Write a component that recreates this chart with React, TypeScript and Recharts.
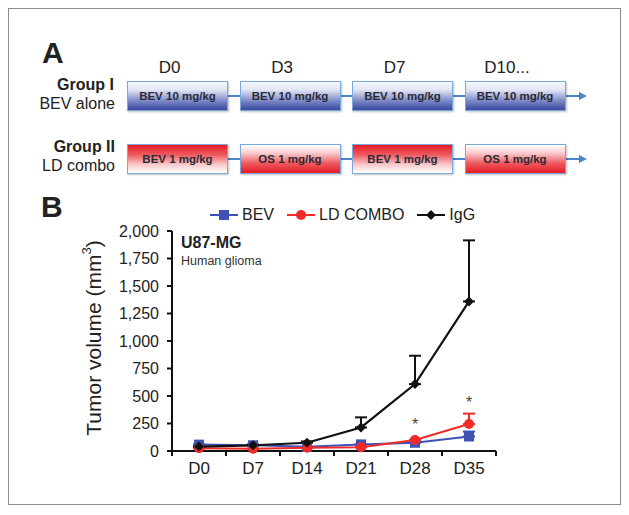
import React from 'react';
import { ComposedChart, Line, XAxis, YAxis, ErrorBar, Label } from 'recharts';

// panel B values
const days = ['D0', 'D7', 'D14', 'D21', 'D28', 'D35'];
const bev = [58, 52, 38, 60, 75, 132];
const bevErr = [0, 0, 0, 0, 10, 45];
const ldCombo = [25, 20, 30, 35, 100, 245];
const ldComboErr = [0, 0, 0, 0, 0, 95];
const igg = [40, 52, 75, 214, 608, 1360];
const iggErr = [0, 8, 12, 92, 258, 555];
const significance = [null, null, null, null, 275, 473];
const yTicks = [0, 250, 500, 750, 1000, 1250, 1500, 1750, 2000];

// panel A schedule
const scheduleDays = ['D0', 'D3', 'D7', 'D10...'];
const group1Doses = ['BEV 10 mg/kg', 'BEV 10 mg/kg', 'BEV 10 mg/kg', 'BEV 10 mg/kg'];
const group2Doses = ['BEV 1 mg/kg', 'OS 1 mg/kg', 'BEV 1 mg/kg', 'OS 1 mg/kg'];

const BLUE = '#3d52b4';
const RED = '#f22a2a';
const BLACK = '#111111';
const LINK = '#4a86c8';

const series = [
  { key: 'bev', name: 'BEV', color: BLUE, shape: 'square' },
  { key: 'ldCombo', name: 'LD COMBO', color: RED, shape: 'circle' },
  { key: 'igg', name: 'IgG', color: BLACK, shape: 'diamond' },
];

const data = days.map((day, i) => ({
  day,
  bev: bev[i],
  bevErr: [0, bevErr[i]],
  ldCombo: ldCombo[i],
  ldComboErr: [0, ldComboErr[i]],
  igg: igg[i],
  iggErr: [0, iggErr[i]],
  sig: significance[i],
}));

const BAND = 54;

const marker = (shape: string, color: string, cx: number, cy: number, key?: string) => {
  if (shape === 'square') {
    return <rect key={key} x={cx - 5} y={cy - 5} width={10} height={10} fill={color} />;
  }
  if (shape === 'circle') {
    return <circle key={key} cx={cx} cy={cy} r={5} fill={color} />;
  }
  return (
    <polygon
      key={key}
      points={`${cx},${cy - 5} ${cx + 5},${cy} ${cx},${cy + 5} ${cx - 5},${cy}`}
      fill={color}
    />
  );
};

const makeDot = (shape: string, color: string) => (props: any) => {
  const { cx, cy, index } = props;
  if (cx == null || cy == null) return <g key={`e-${shape}-${index}`} />;
  return marker(shape, color, cx, cy, `${shape}-${index}`);
};

const StarDot = (props: any) => {
  const { cx, cy, index, value } = props;
  if (value == null || cy == null) return <g key={`s-${index}`} />;
  return (
    <text key={`s-${index}`} x={cx} y={cy + 9} textAnchor="middle" fontSize={16} fill="#444">
      *
    </text>
  );
};

// tick marks sit on the category boundaries, labels in the middle
const DayTick = (props: any) => {
  const { x, y, payload, index } = props;
  const half = BAND / 2;
  return (
    <g>
      <line x1={x - half} y1={y} x2={x - half} y2={y + 5} stroke={BLACK} strokeWidth={2} />
      {index === days.length - 1 && (
        <line x1={x + half} y1={y} x2={x + half} y2={y + 5} stroke={BLACK} strokeWidth={2} />
      )}
      <text x={x} y={y + 23} textAnchor="middle" fontSize={17} fill="#222">
        {payload.value}
      </text>
    </g>
  );
};

const YTitle = (props: any) => {
  const vb = props.viewBox || { x: 0, y: 41, width: 163, height: 220 };
  const cx = vb.x + 84;
  const cy = vb.y + vb.height / 2 - 3;
  return (
    <text
      transform={`rotate(-90, ${cx}, ${cy})`}
      x={cx}
      y={cy}
      textAnchor="middle"
      dominantBaseline="central"
      fontSize={21}
      fill="#222"
    >
      Tumor volume (mm<tspan dy={-7} fontSize={13}>3</tspan>
      <tspan dy={7}>)</tspan>
    </text>
  );
};

const boxStyles: Record<string, string> = {
  blue: 'linear-gradient(to bottom, #f6f7fc 0%, #e2e5f4 28%, #7a87c6 68%, #3a479f 100%)',
  redTop: 'linear-gradient(to bottom, #e61b24 0%, #ee5a5f 35%, #f9c9cb 70%, #ffffff 100%)',
  redBottom: 'linear-gradient(to bottom, #ffffff 0%, #f9c9cb 30%, #ee5a5f 65%, #e61b24 100%)',
};

const ScheduleRow = ({ top, doses, fills }: { top: number; doses: string[]; fills: string[] }) => {
  const lefts = doses.map((_, i) => 118 + i * 112.5);
  return (
    <>
      {lefts.slice(0, -1).map((l, i) => (
        <div
          key={`c${i}`}
          style={{ position: 'absolute', left: l + 101, top: top + 14, width: lefts[i + 1] - l - 101, height: 2, background: LINK }}
        />
      ))}
      <div style={{ position: 'absolute', left: lefts[3] + 101, top: top + 14, width: 14, height: 2, background: LINK }} />
      <div
        style={{
          position: 'absolute',
          left: lefts[3] + 114,
          top: top + 10.5,
          width: 0,
          height: 0,
          borderLeft: '8px solid ' + LINK,
          borderTop: '4.5px solid transparent',
          borderBottom: '4.5px solid transparent',
        }}
      />
      {doses.map((d, i) => (
        <div
          key={`b${i}`}
          style={{
            position: 'absolute',
            left: lefts[i],
            top,
            width: 101,
            height: 30,
            boxSizing: 'border-box',
            border: '1.5px solid #7aa7dc',
            background: boxStyles[fills[i]],
            boxShadow: '1px 1px 2px rgba(0,0,0,0.25)',
            display: 'flex',
            alignItems: 'center',
            justifyContent: 'center',
            fontSize: 11.5,
            fontWeight: 'bold',
            color: '#2a2a35',
          }}
        >
          {d}
        </div>
      ))}
    </>
  );
};

const App = () => {
  const abs = (left: number, top: number, extra: React.CSSProperties = {}): React.CSSProperties => ({
    position: 'absolute',
    left,
    top,
    lineHeight: 1,
    whiteSpace: 'nowrap',
    ...extra,
  });

  return (
    <div
      style={{
        position: 'relative',
        width: 611,
        height: 495,
        border: '1px solid #8c8c8c',
        background: '#fff',
        fontFamily: '"Liberation Sans", Arial, sans-serif',
        color: '#222',
      }}
    >
      {/* panel A */}
      <div style={abs(33, 29, { fontSize: 30, fontWeight: 'bold' })}>A</div>
      {scheduleDays.map((d, i) => (
        <div key={d} style={abs(110 + i * 112.5, 49.5, { fontSize: 17, width: 101, textAlign: 'center' })}>
          {d}
        </div>
      ))}
      <div style={abs(0, 68, { fontSize: 16, fontWeight: 'bold', width: 105, textAlign: 'right' })}>Group I</div>
      <div style={abs(0, 87, { fontSize: 16, width: 106, textAlign: 'right' })}>BEV alone</div>
      <div style={abs(0, 130, { fontSize: 16, fontWeight: 'bold', width: 106, textAlign: 'right' })}>Group II</div>
      <div style={abs(0, 149, { fontSize: 16, width: 106, textAlign: 'right' })}>LD combo</div>
      <ScheduleRow top={72} doses={group1Doses} fills={['blue', 'blue', 'blue', 'blue']} />
      <ScheduleRow top={135} doses={group2Doses} fills={['redTop', 'redBottom', 'redTop', 'redBottom']} />

      {/* panel B */}
      <div style={abs(32, 182.5, { fontSize: 30, fontWeight: 'bold' })}>B</div>
      <div style={{ position: 'absolute', left: 0, top: 181 }}>
        <ComposedChart width={610} height={312} data={data} margin={{ top: 41, right: 123, bottom: 0, left: 0 }}>
          <XAxis
            dataKey="day"
            height={51}
            interval={0}
            padding={{ left: BAND / 2, right: BAND / 2 }}
            tickSize={0}
            tickMargin={0}
            axisLine={{ stroke: BLACK, strokeWidth: 2 }}
            tick={<DayTick />}
          />
          <YAxis
            domain={[0, 2000]}
            ticks={yTicks}
            interval={0}
            width={163}
            tickSize={5}
            tickMargin={8}
            tickFormatter={(v: number) => v.toLocaleString('en-US')}
            axisLine={{ stroke: BLACK, strokeWidth: 2 }}
            tickLine={{ stroke: BLACK, strokeWidth: 2 }}
            tick={{ fontSize: 16, fill: '#222' }}
          >
            <Label content={<YTitle />} />
          </YAxis>
          <Line dataKey="bev" stroke={BLUE} strokeWidth={2} dot={makeDot('square', BLUE)} activeDot={false} isAnimationActive={false}>
            <ErrorBar dataKey="bevErr" width={6} strokeWidth={2} stroke={BLUE} direction="y" />
          </Line>
          <Line dataKey="ldCombo" stroke={RED} strokeWidth={2} dot={makeDot('circle', RED)} activeDot={false} isAnimationActive={false}>
            <ErrorBar dataKey="ldComboErr" width={6} strokeWidth={2} stroke={RED} direction="y" />
          </Line>
          <Line dataKey="igg" stroke={BLACK} strokeWidth={2.2} dot={makeDot('diamond', BLACK)} activeDot={false} isAnimationActive={false}>
            <ErrorBar dataKey="iggErr" width={6} strokeWidth={2} stroke={BLACK} direction="y" />
          </Line>
          <Line dataKey="sig" stroke="none" dot={<StarDot />} activeDot={false} isAnimationActive={false} />
        </ComposedChart>
      </div>

      {/* legend */}
      <div style={{ position: 'absolute', left: 201, top: 197, height: 18, display: 'flex', alignItems: 'center', fontSize: 16 }}>
        {series.map((s) => (
          <div key={s.key} style={{ display: 'flex', alignItems: 'center', marginRight: 13 }}>
            <svg width={28} height={12} style={{ display: 'block' }}>
              <line x1={0} y1={6} x2={28} y2={6} stroke={s.color} strokeWidth={2} />
              {marker(s.shape, s.color, 14, 6)}
            </svg>
            <span style={{ marginLeft: 4, lineHeight: 1 }}>{s.name}</span>
          </div>
        ))}
      </div>

      <div style={abs(172, 226, { fontSize: 16, fontWeight: 'bold' })}>U87-MG</div>
      <div style={abs(172, 245.5, { fontSize: 12.5, color: '#333' })}>Human glioma</div>
    </div>
  );
};

export default App;
